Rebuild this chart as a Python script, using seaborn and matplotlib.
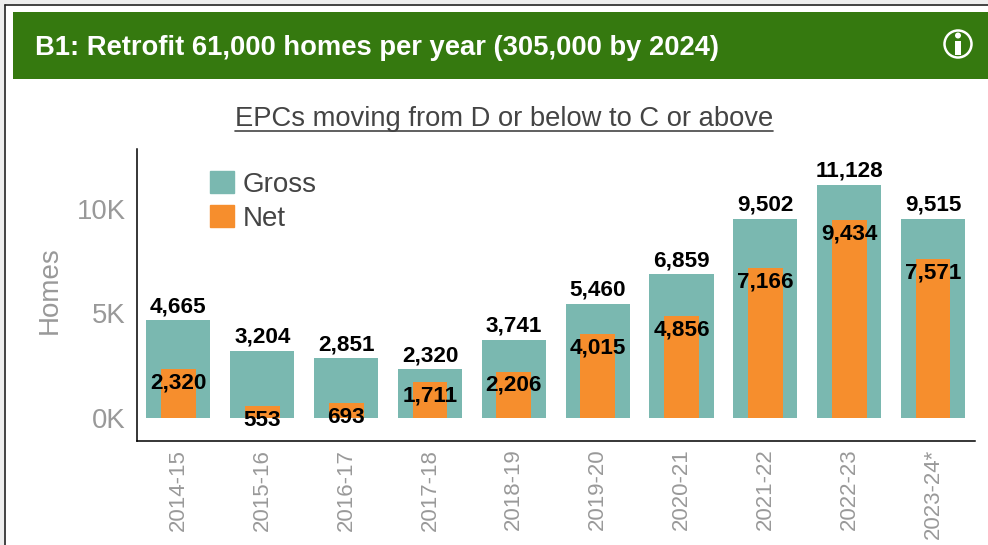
import matplotlib
matplotlib.use("Agg")
import matplotlib.pyplot as plt
from matplotlib.patches import Circle, Patch, Rectangle
import pandas as pd
import seaborn as sns

# Values
YEARS = ["2014-15", "2015-16", "2016-17", "2017-18", "2018-19",
         "2019-20", "2020-21", "2021-22", "2022-23", "2023-24*"]
GROSS = [4665, 3204, 2851, 2320, 3741, 5460, 6859, 9502, 11128, 9515]
NET = [2320, 553, 693, 1711, 2206, 4015, 4856, 7166, 9434, 7571]
Y_TICKS = [0, 5000, 10000]
Y_TICK_LABELS = ["0K", "5K", "10K"]

# Configuration
GREEN = "#35790F"
TEAL = "#7AB8B0"
ORANGE = "#F68E2D"
GREY = "#999999"
DARK = "#444444"
W, H = 988, 545


def draw_card(fig):
    """White card with the green header, drawn in pixel coordinates."""
    bg = fig.add_axes([0, 0, 1, 1], zorder=0)
    bg.set_xlim(0, W)
    bg.set_ylim(H, 0)
    bg.axis("off")
    bg.add_patch(Rectangle((0, 0), W, 3.5, color="#EEEEEE", lw=0))
    bg.add_patch(Rectangle((0, 0), 4, H, color="#EEEEEE", lw=0))
    bg.plot([5, W], [4.5, 4.5], color="#222222", lw=1.2)
    bg.plot([5, 5], [4.5, H], color="#222222", lw=1.2)
    bg.add_patch(Rectangle((13, 12), W - 13, 67, color=GREEN, lw=0))
    bg.text(35, 48, "B1: Retrofit 61,000 homes per year (305,000 by 2024)",
            color="white", fontsize=19.7, fontweight="bold", va="center", ha="left")
    # info icon
    bg.add_patch(Circle((958, 44), 13.5, fc="none", ec="white", lw=1.8))
    bg.add_patch(Rectangle((955, 40.5), 6, 14, color="white", lw=0))
    bg.add_patch(Circle((958, 35.5), 3, color="white", lw=0))
    # subtitle, underlined by hand
    bg.text(504, 119, "EPCs moving from D or below to C or above",
            color=DARK, fontsize=19.7, va="center", ha="center")
    bg.plot([235, 773], [130.5, 130.5], color=DARK, lw=1.2)


def draw_bars(fig, df):
    """Gross bars with the narrower net bars on top."""
    ax = fig.add_axes([136.5 / W, 1 - 441 / H, 838.5 / W, 292 / H], zorder=1)
    ax.patch.set_alpha(0)
    sns.barplot(data=df, x="year", y="gross", color=TEAL, width=0.765,
                saturation=1, linewidth=0, ax=ax, zorder=2)
    sns.barplot(data=df, x="year", y="net", color=ORANGE, width=0.415,
                saturation=1, linewidth=0, ax=ax, zorder=3)
    ax.set_xlim(-0.5, 9.5)
    ax.set_ylim(-1098, 12846)

    for i, row in df.iterrows():
        ax.annotate(f"{row['gross']:,}", (i, row["gross"]), xytext=(0, 9.8),
                    textcoords="offset points", ha="center", va="center",
                    fontsize=16.2, fontweight="bold", color="black", zorder=5)
        ax.annotate(f"{row['net']:,}", (i, row["net"]), xytext=(0, -9.8),
                    textcoords="offset points", ha="center", va="center",
                    fontsize=16.2, fontweight="bold", color="black", zorder=5)

    ax.set_yticks(Y_TICKS, Y_TICK_LABELS)
    ax.tick_params(axis="y", length=0, pad=8, labelsize=19.8, labelcolor=GREY)
    ax.tick_params(axis="x", length=0, pad=5.5, labelsize=16, labelcolor=GREY,
                   labelrotation=90)
    ax.set_xlabel("")
    ax.set_ylabel("Homes", fontsize=20, color=GREY)
    ax.yaxis.set_label_coords(-0.0885, 0.517)

    sns.despine(ax=ax)
    for side in ["left", "bottom"]:
        ax.spines[side].set_color("black")
        ax.spines[side].set_linewidth(1.1)

    handles = [Patch(color=TEAL, label="Gross"), Patch(color=ORANGE, label="Net")]
    ax.legend(handles=handles, loc="upper left", bbox_to_anchor=(0.0875, 0.925),
              frameon=False, fontsize=20, labelcolor=DARK, handlelength=0.86,
              handleheight=0.86, handletextpad=0.33, labelspacing=0.26,
              borderpad=0, borderaxespad=0)
    return ax


def main():
    sns.set_style("white")
    plt.rcParams["font.family"] = ["Liberation Sans", "DejaVu Sans"]
    df = pd.DataFrame({"year": YEARS, "gross": GROSS, "net": NET})
    fig = plt.figure(figsize=(W / 100, H / 100), dpi=100, facecolor="white")
    draw_card(fig)
    draw_bars(fig, df)
    fig.savefig("out.png", dpi=100)
    plt.close(fig)


if __name__ == "__main__":
    main()
